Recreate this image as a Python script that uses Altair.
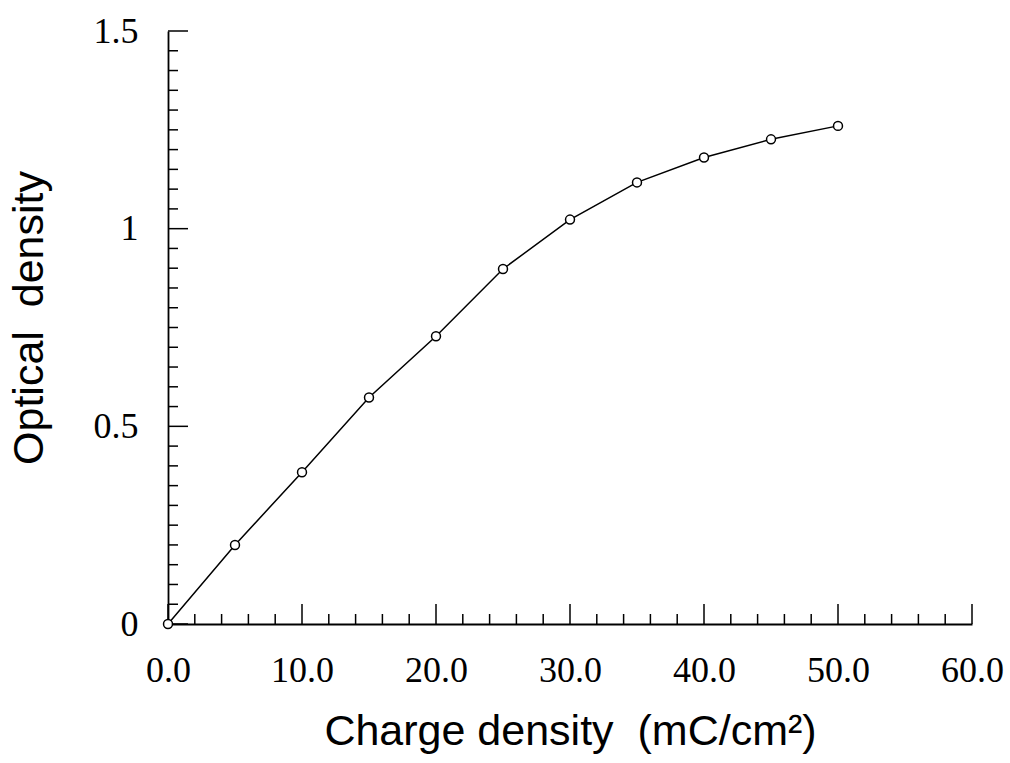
import altair as alt
import pandas as pd

charge = [0, 5, 10, 15, 20, 25, 30, 35, 40, 45, 50]
optical = [0.0, 0.20, 0.384, 0.573, 0.728, 0.898, 1.023, 1.117, 1.18, 1.226, 1.26]

x_major = [0, 10, 20, 30, 40, 50, 60]
x_minor = [v for v in range(0, 61, 2) if v % 10 != 0]
y_major = [0.0, 0.5, 1.0, 1.5]
y_minor = [round(v * 0.05, 2) for v in range(0, 31) if v % 10 != 0]

W, H = 804, 593

df = pd.DataFrame({"charge": charge, "od": optical})

xscale = alt.Scale(domain=[0, 60], nice=False, zero=False)
yscale = alt.Scale(domain=[0, 1.5], nice=False, zero=False)

serif = "Liberation Serif"
sans = "Liberation Sans"
NB = "\u00a0"

x_axis = alt.Axis(
    values=x_major, format=".1f", ticks=False, grid=False,
    domainColor="black", domainWidth=1.8,
    labelFont=serif, labelFontSize=36, labelColor="black", labelPadding=29,
    labelFlush=False, labelOverlap=False,
    title="Charge density" + NB + NB + "(mC/cm²)", titleFont=sans, titleFontSize=43,
    titleFontWeight="normal", titleColor="black",
    titleX=W / 2, titleY=120, titleBaseline="alphabetic", titleAlign="center",
)
y_axis = alt.Axis(
    values=y_major, format="~g", ticks=False, grid=False,
    domainColor="black", domainWidth=1.8,
    labelFont=serif, labelFontSize=36, labelColor="black", labelPadding=30,
    labelFlush=False, labelOverlap=False,
    title="Optical" + NB + NB + "density", titleFont=sans, titleFontSize=43,
    titleFontWeight="normal", titleColor="black",
    titleX=-139, titleY=H / 2 - 10, titleAngle=-90, titleBaseline="middle", titleAlign="center",
)

line = alt.Chart(df).mark_line(color="black", strokeWidth=1.5).encode(
    x=alt.X("charge:Q", scale=xscale, axis=x_axis),
    y=alt.Y("od:Q", scale=yscale, axis=y_axis),
)
pts = alt.Chart(df).mark_point(
    shape="circle", filled=False, fill="white", fillOpacity=1,
    stroke="black", strokeWidth=1.5, size=80, opacity=1,
).encode(x=alt.X("charge:Q", scale=xscale), y=alt.Y("od:Q", scale=yscale))

def xticks(vals, length):
    d = pd.DataFrame({"t": vals})
    return alt.Chart(d).mark_rule(color="black", strokeWidth=1.5).encode(
        x=alt.X("t:Q", scale=xscale), y=alt.value(H), y2=alt.value(H - length)
    )

def yticks(vals, length):
    d = pd.DataFrame({"t": vals})
    return alt.Chart(d).mark_rule(color="black", strokeWidth=1.5).encode(
        y=alt.Y("t:Q", scale=yscale), x=alt.value(0), x2=alt.value(length)
    )

chart = alt.layer(
    xticks(x_minor, 10), xticks(x_major, 20),
    yticks(y_minor, 10), yticks(y_major, 20),
    line, pts,
).properties(
    width=W, height=H,
    background="white",
    padding={"left": 168, "top": 31, "right": 38, "bottom": 139},
    autosize=alt.AutoSizeParams(type="none"),
).configure_view(stroke=None)

chart.save("out.html", embed_options={"renderer": "svg", "actions": False})
